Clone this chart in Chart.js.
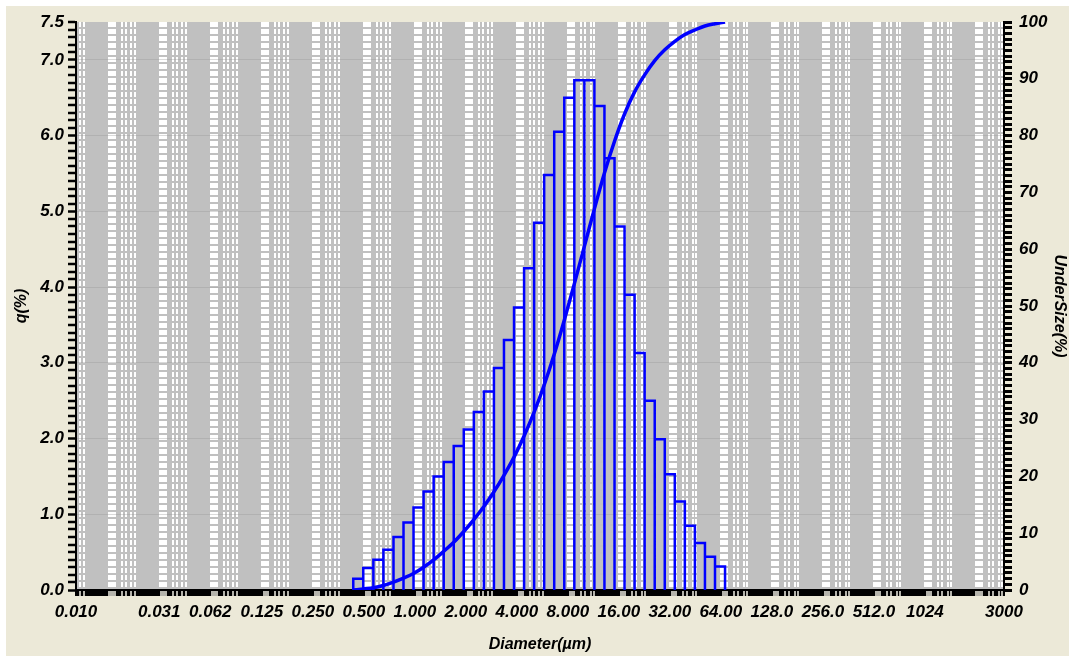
<!DOCTYPE html>
<html>
<head>
<meta charset="utf-8">
<script src="https://cdn.jsdelivr.net/npm/chart.js@4/dist/chart.umd.min.js"></script>
<style>
  html, body { margin: 0; padding: 0; background: #fff; }
  #wrap { width: 1069px; height: 656px; }
</style>
</head>
<body>
<div id="wrap"><canvas id="psd-chart" width="1069" height="656"></canvas></div>
<script>
// Bin edges of the histogram (µm), 37 bins
const binEdges = [0.433, 0.496, 0.569, 0.652, 0.748, 0.857, 0.982, 1.126, 1.291, 1.480,
    1.696, 1.944, 2.229, 2.555, 2.929, 3.357, 3.849, 4.412, 5.057, 5.797,
    6.645, 7.618, 8.732, 10.01, 11.47, 13.15, 15.08, 17.28, 19.81, 22.71,
    26.04, 29.85, 34.21, 39.22, 44.96, 51.54, 59.08, 67.72];

// q(%) per bin
const qValues = [0.15, 0.29, 0.40, 0.53, 0.70, 0.89, 1.09, 1.30, 1.50, 1.69,
    1.90, 2.12, 2.35, 2.62, 2.93, 3.30, 3.73, 4.25, 4.85, 5.48,
    6.05, 6.50, 6.73, 6.73, 6.39, 5.70, 4.80, 3.90, 3.13, 2.50,
    1.99, 1.53, 1.17, 0.85, 0.62, 0.44, 0.31];

// UnderSize(%) at each bin edge
const underSize = [0, 0.2, 0.4, 0.8, 1.4, 2.1, 2.9, 4.0, 5.3, 6.8,
    8.4, 10.3, 12.4, 14.7, 17.3, 20.2, 23.4, 27.1, 31.3, 36.1,
    41.5, 47.5, 53.9, 60.5, 67.1, 73.4, 79.0, 83.8, 87.7, 90.7,
    93.2, 95.1, 96.6, 97.8, 98.6, 99.3, 99.7, 100];

// Axis ticks
const xTickValues = [0.01, 0.031, 0.062, 0.125, 0.25, 0.5, 1, 2, 4, 8, 16, 32, 64, 128, 256, 512, 1024, 3000];
const xTickLabels = ['0.010', '0.031', '0.062', '0.125', '0.250', '0.500', '1.000', '2.000', '4.000', '8.000',
    '16.00', '32.00', '64.00', '128.0', '256.0', '512.0', '1024', '3000'];
const qTickValues = [0, 1, 2, 3, 4, 5, 6, 7, 7.5];
const qTickLabels = ['0.0', '1.0', '2.0', '3.0', '4.0', '5.0', '6.0', '7.0', '7.5'];
const underTickValues = [0, 10, 20, 30, 40, 50, 60, 70, 80, 90, 100];
const underTickLabels = ['0', '10', '20', '30', '40', '50', '60', '70', '80', '90', '100'];

const X_MIN = 0.01;
const X_MAX = 3000;
const FONT = "'Liberation Sans', Arial, sans-serif";
const BLUE = '#0000FF';

// White dashed grid lines, one group per doubling
const gridFactors = [1.0, 1.03, 1.06, 1.09, 1.2, 1.26, 1.36, 1.42];

function labelFor(values, labels, v) {
    const i = values.findIndex(t => Math.abs(t - v) < 1e-6);
    return i >= 0 ? labels[i] : '';
}

// Ticks of the diameter axis: dense black marks, grid groups and labels
function buildXTicks(scale) {
    const ticks = [];
    for (let k = -7; k <= 11; k++) {
        for (let j = 0; j < 16; j++) {
            const v = Math.pow(2, k + j / 16);
            if (v > X_MIN && v < X_MAX) ticks.push({ value: v, kind: 'fill' });
        }
    }
    for (let k = -7; k <= 11; k++) {
        gridFactors.forEach(f => {
            const v = Math.pow(2, k) * f;
            if (v > X_MIN && v < X_MAX) ticks.push({ value: v, kind: 'grid' });
        });
    }
    xTickValues.forEach((v, i) => ticks.push({ value: v, kind: 'label', label: xTickLabels[i] }));
    scale.ticks = ticks;
}

function tickKind(ctx) {
    return ctx.tick ? ctx.tick.kind : 'none';
}

// Histogram outline: every bin as a closed box
function histogramPoints() {
    const pts = [];
    qValues.forEach((q, i) => {
        pts.push({ x: binEdges[i], y: 0 });
        pts.push({ x: binEdges[i], y: q });
        pts.push({ x: binEdges[i + 1], y: q });
        pts.push({ x: binEdges[i + 1], y: 0 });
    });
    return pts;
}

const backgroundPlugin = {
    id: 'background',
    beforeDraw(chart) {
        const { ctx, chartArea: a, width, height } = chart;
        ctx.save();
        ctx.fillStyle = '#FFFFFF';
        ctx.fillRect(0, 0, width, height);
        ctx.fillStyle = '#ECE9D8';
        ctx.fillRect(6, 6, width - 6, height - 6);
        ctx.fillStyle = '#C0C0C0';
        ctx.fillRect(a.left, a.top, a.right - a.left, a.bottom - a.top);
        ctx.restore();
    }
};

function buildChart() {
    const tickFont = { family: FONT, size: 17, style: 'italic', weight: 'bold' };
    const yFont = { family: FONT, size: 17, style: 'italic', weight: 'bold' };
    const titleFont = { family: FONT, size: 16, style: 'italic', weight: 'bold' };

    const ctx = document.getElementById('psd-chart').getContext('2d');
    new Chart(ctx, {
        type: 'scatter',
        data: {
            datasets: [
                {
                    label: 'q(%)',
                    data: histogramPoints(),
                    showLine: true,
                    borderColor: BLUE,
                    borderWidth: 2.5,
                    pointRadius: 0,
                    fill: false,
                    tension: 0,
                    yAxisID: 'y'
                },
                {
                    label: 'UnderSize(%)',
                    data: underSize.map((u, i) => ({ x: binEdges[i], y: u })),
                    showLine: true,
                    borderColor: BLUE,
                    borderWidth: 3.5,
                    pointRadius: 0,
                    fill: false,
                    cubicInterpolationMode: 'monotone',
                    yAxisID: 'y2'
                }
            ]
        },
        options: {
            responsive: false,
            animation: false,
            devicePixelRatio: 1,
            layout: { padding: { top: 22, left: 0, right: 0, bottom: 0 } },
            plugins: {
                legend: { display: false },
                tooltip: { enabled: false }
            },
            scales: {
                x: {
                    type: 'logarithmic',
                    position: 'bottom',
                    min: X_MIN,
                    max: X_MAX,
                    afterBuildTicks: buildXTicks,
                    afterFit: s => { s.height = 66; },
                    ticks: {
                        autoSkip: false,
                        maxRotation: 0,
                        minRotation: 0,
                        padding: 6,
                        color: '#000',
                        font: tickFont,
                        callback: (value, index, ticks) => ticks[index].label || ''
                    },
                    grid: {
                        color: '#FFFFFF',
                        lineWidth: c => tickKind(c) === 'grid' ? 2 : 0,
                        tickLength: 6,
                        tickColor: c => tickKind(c) === 'grid' ? '#F2F0E6' : '#000',
                        tickWidth: c => tickKind(c) === 'fill' ? 4 : (tickKind(c) === 'grid' ? 1.5 : 2)
                    },
                    border: { display: true, color: '#000', width: 2, dash: [5, 2] },
                    title: {
                        display: true,
                        text: 'Diameter(µm)',
                        color: '#000',
                        font: titleFont,
                        padding: { top: 0, bottom: 2 }
                    }
                },
                y: {
                    type: 'linear',
                    position: 'left',
                    min: 0,
                    max: 7.5,
                    afterBuildTicks: s => {
                        const t = [];
                        for (let i = 0; i <= 75; i++) t.push({ value: i / 10 });
                        s.ticks = t;
                    },
                    afterFit: s => { s.width = 76; },
                    ticks: {
                        autoSkip: false,
                        padding: 4,
                        color: '#000',
                        font: yFont,
                        callback: v => labelFor(qTickValues, qTickLabels, v)
                    },
                    grid: {
                        color: 'rgba(150,150,150,0.35)',
                        lineWidth: c => (c.tick && Math.abs(c.tick.value - Math.round(c.tick.value)) < 1e-6) ? 1 : 0,
                        tickLength: 8,
                        tickColor: '#000',
                        tickWidth: 2.5
                    },
                    border: { display: true, color: '#000', width: 2 },
                    title: {
                        display: true,
                        text: 'q(%)',
                        color: '#000',
                        font: titleFont,
                        padding: { top: 12, bottom: 0 }
                    }
                },
                y2: {
                    type: 'linear',
                    position: 'right',
                    min: 0,
                    max: 100,
                    afterBuildTicks: s => {
                        const t = [];
                        for (let i = 0; i <= 100; i++) t.push({ value: i });
                        s.ticks = t;
                    },
                    afterFit: s => { s.width = 65; },
                    ticks: {
                        autoSkip: false,
                        padding: 7,
                        color: '#000',
                        font: yFont,
                        callback: v => labelFor(underTickValues, underTickLabels, v)
                    },
                    grid: {
                        drawOnChartArea: false,
                        tickLength: 8,
                        tickColor: '#000',
                        tickWidth: 3
                    },
                    border: { display: true, color: '#000', width: 2 },
                    title: {
                        display: true,
                        text: 'UnderSize(%)',
                        color: '#000',
                        font: titleFont,
                        padding: { top: 0, bottom: 0 }
                    }
                }
            }
        },
        plugins: [backgroundPlugin]
    });
}

buildChart();
</script>
</body>
</html>
